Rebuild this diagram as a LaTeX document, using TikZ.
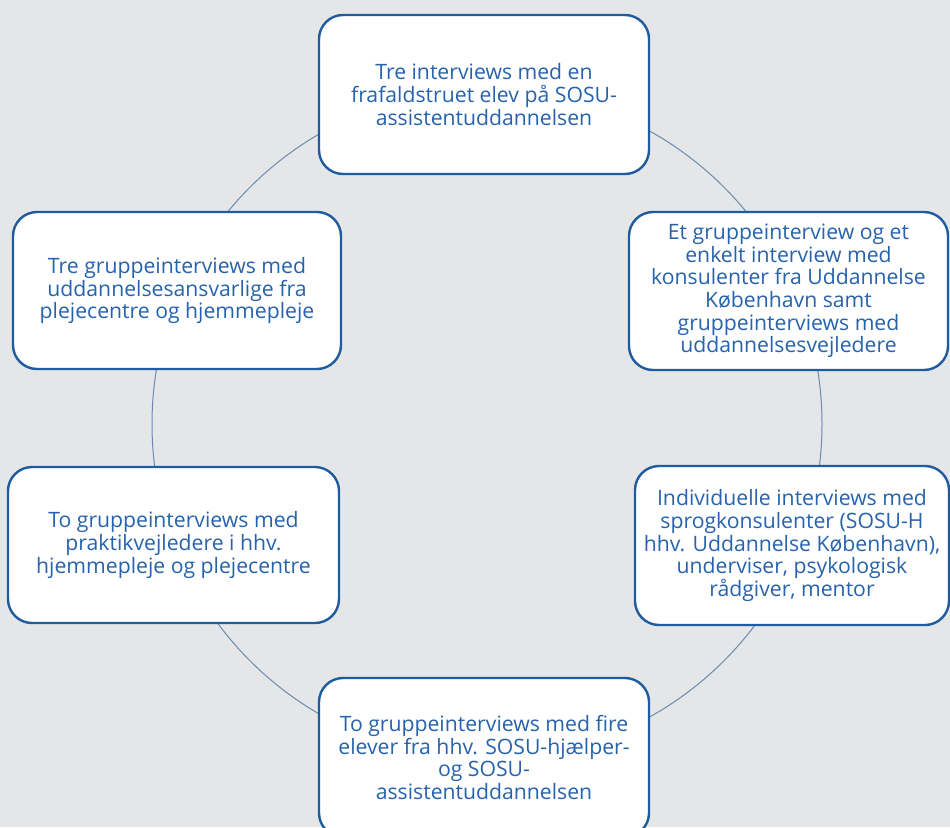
\documentclass[tikz,border=0pt]{standalone}
\usepackage{fontspec}
\setmainfont{Open Sans}
\definecolor{bgc}{HTML}{E5E6E8}
\definecolor{boxline}{HTML}{1F5B9F}
\definecolor{boxtext}{HTML}{2763AC}
\definecolor{ringc}{HTML}{6A8BB2}
\tikzset{
  x=1pt,y=-1pt,
  boxnode/.style={draw=boxline, line width=2.4pt, fill=white, rounded corners=24pt,
    align=center, text=boxtext, inner sep=0pt,
    font=\fontsize{21.2}{22.6}\selectfont},
  ring/.style={draw=ringc, line width=1pt}
}
\begin{document}
\begin{tikzpicture}
\fill[bgc] (0,0) rectangle (950,827);
\useasboundingbox (0,0) rectangle (950,827);
\coordinate (ctr) at (487,424);
\draw[ring] (ctr) circle[radius=335pt];
\node[boxnode, minimum width=330pt, minimum height=159pt] (t) at (484,94.5)
  {Tre interviews med en\\frafaldstruet elev på SOSU-\\assistentuddannelsen};
\node[boxnode, minimum width=319pt, minimum height=158pt] (ru) at (788.5,291)
  {Et gruppeinterview og et\\enkelt interview med\\konsulenter fra Uddannelse\\København samt\\gruppeinterviews med\\uddannelsesvejledere};
\node[boxnode, minimum width=314pt, minimum height=159pt] (rl) at (792,545.5)
  {Individuelle interviews med\\sprogkonsulenter (SOSU-H\\hhv. Uddannelse København),\\underviser, psykologisk\\rådgiver, mentor};
\node[boxnode, minimum width=330pt, minimum height=159pt] (b) at (484,757.5)
  {To gruppeinterviews med fire\\elever fra hhv. SOSU-hjælper-\\og SOSU-\\assistentuddannelsen};
\node[boxnode, minimum width=328pt, minimum height=157pt] (lu) at (177,290.5)
  {Tre gruppeinterviews med\\uddannelsesansvarlige fra\\plejecentre og hjemmepleje};
\node[boxnode, minimum width=331pt, minimum height=156pt] (ll) at (173.5,545)
  {To gruppeinterviews med\\praktikvejledere i hhv.\\hjemmepleje og plejecentre};
\end{tikzpicture}
\end{document}
